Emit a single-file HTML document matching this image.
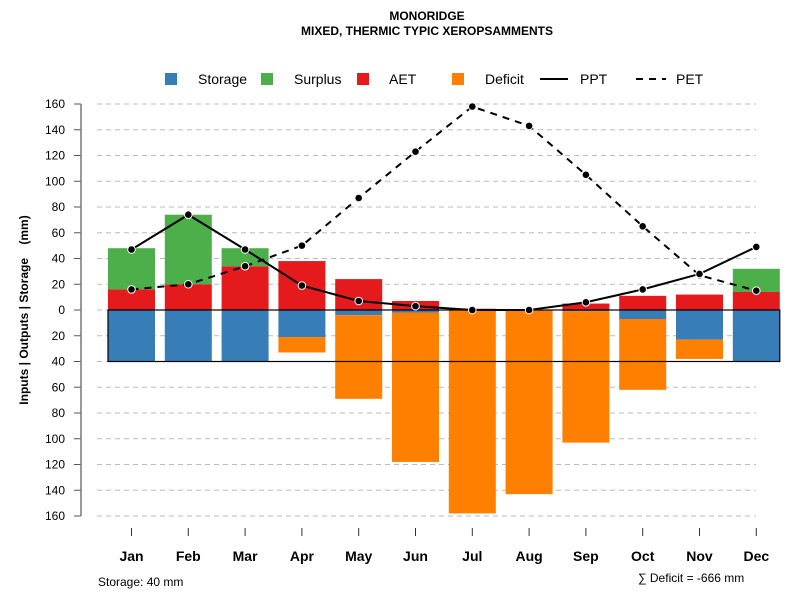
<!DOCTYPE html>
<html><head><meta charset="utf-8"><style>
body{margin:0;background:#fff;font-family:"Liberation Sans",sans-serif}
</style></head><body>
<svg id="c" width="800" height="600" xmlns="http://www.w3.org/2000/svg" font-family="Liberation Sans, sans-serif">
<text x="427" y="20" text-anchor="middle" font-size="12" font-weight="bold">MONORIDGE</text>
<text x="427" y="35" text-anchor="middle" font-size="12" font-weight="bold">MIXED, THERMIC TYPIC XEROPSAMMENTS</text>
<g id="legend" font-size="14">
<rect x="165" y="73" width="12" height="12" fill="#377eb8"/><text x="198" y="84">Storage</text>
<rect x="261" y="73" width="12" height="12" fill="#4daf4a"/><text x="294" y="84">Surplus</text>
<rect x="357" y="73" width="12" height="12" fill="#e41a1c"/><text x="389" y="84">AET</text>
<rect x="452" y="73" width="12" height="12" fill="#ff7f00"/><text x="485" y="84">Deficit</text>
<line x1="540" y1="79" x2="568" y2="79" stroke="#000" stroke-width="2"/><text x="580" y="84">PPT</text>
<line x1="636" y1="79" x2="666" y2="79" stroke="#000" stroke-width="2" stroke-dasharray="7,6"/><text x="676" y="84">PET</text>
</g>
<text transform="translate(28,310) rotate(-90)" text-anchor="middle" font-size="12" font-weight="bold" xml:space="preserve">Inputs | Outputs | Storage    (mm)</text>
<text x="98" y="586" font-size="12">Storage: 40 mm</text>
<text x="638" y="582" font-size="12">∑ Deficit = -666 mm</text>
<g id="g"></g>
</svg>
<script>
const months=["Jan","Feb","Mar","Apr","May","Jun","Jul","Aug","Sep","Oct","Nov","Dec"];
const storage=[40,40,40,21,4,2,0,0,1,7,23,40];
const deficit=[0,0,0,12,65,116,158,143,102,55,15,0];
const aet=[16,20,34,38,24,7,1,0,5,11,12,14];
const surplus=[32,54,14,0,0,0,0,0,0,0,0,18];
const ppt=[47,74,47,19,7,3,0,0,6,16,28,49];
const pet=[16,20,34,50,87,123,158,143,105,65,27,15];
const yTicks=[160,140,120,100,80,60,40,20,0,20,40,60,80,100,120,140,160];
const yVals=[160,140,120,100,80,60,40,20,0,-20,-40,-60,-80,-100,-120,-140,-160];
const NS="http://www.w3.org/2000/svg";
const g=document.getElementById("g");
const y=v=>310-v*(206/160);
const x=i=>131.5+i*56.8;
function mk(t,a){const e=document.createElementNS(NS,t);for(const k in a)e.setAttribute(k,a[k]);g.appendChild(e);return e;}
yVals.forEach((v,i)=>{
 let e=mk("line",{x1:97,x2:756,y1:y(v),y2:y(v),stroke:"#bbb","stroke-dasharray":"5,4"});
 
 
 e=mk("line",{x1:74,x2:81,y1:y(v),y2:y(v),stroke:"#555"});
 
 
 e=mk("text",{x:65,y:y(v)+4,"text-anchor":"end","font-size":"12"});e.textContent=yTicks[i];
 
 
});
let ax=mk("line",{x1:81,x2:81,y1:y(160),y2:y(-160),stroke:"#777","stroke-width":1.5});


const w=47;
months.forEach((m,i)=>{
 const cx=x(i),x0=cx-w/2;let e;
 if(storage[i]>0){e=mk("rect",{x:x0,y:y(0),width:w,height:y(-storage[i])-y(0),fill:"#377eb8"});
 
 }
 if(deficit[i]>0){e=mk("rect",{x:x0,y:y(-storage[i]),width:w,height:y(-storage[i]-deficit[i])-y(-storage[i]),fill:"#ff7f00"});
 
 }
 if(aet[i]>0){e=mk("rect",{x:x0,y:y(aet[i]),width:w,height:y(0)-y(aet[i]),fill:"#e41a1c"});
 
 }
 if(surplus[i]>0){e=mk("rect",{x:x0,y:y(aet[i]+surplus[i]),width:w,height:y(aet[i])-y(aet[i]+surplus[i]),fill:"#4daf4a"});
 
 }
 e=mk("line",{x1:cx,x2:cx,y1:528,y2:536,stroke:"#333"});
 
 
 e=mk("text",{x:cx,y:561,"text-anchor":"middle","font-size":"14","font-weight":"bold"});e.textContent=m;
 
 
});
let box=mk("rect",{x:x(0)-w/2,y:y(0),width:x(11)+w/2-(x(0)-w/2),height:y(-40)-y(0),fill:"none",stroke:"#000","stroke-width":1.2});


function line(arr,dash,name){
 const e=mk("polyline",{points:arr.map((v,i)=>x(i)+","+y(v)).join(" "),fill:"none",stroke:"#000","stroke-width":2,"stroke-dasharray":dash});
 
 
 arr.forEach((v,i)=>{const c=mk("circle",{cx:x(i),cy:y(v),r:3.8,fill:"#000",stroke:"#fff","stroke-width":1});
 
 });
}
line(pet,"7,6","pet");
line(ppt,"none","ppt");
</script>
</body></html>
